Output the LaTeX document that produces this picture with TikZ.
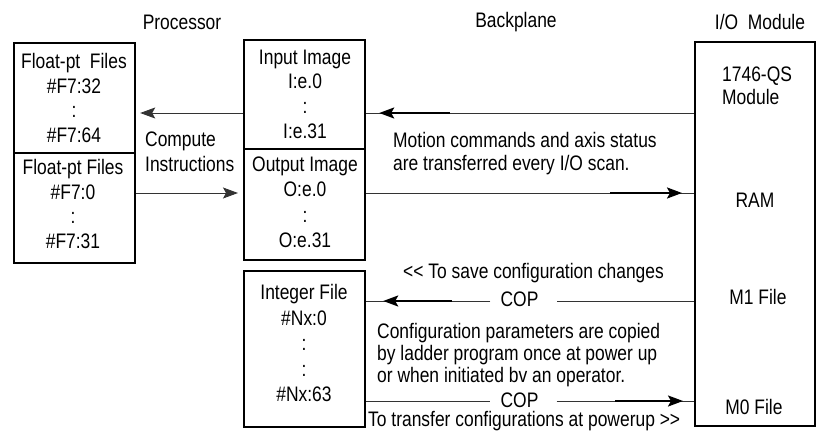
\documentclass[tikz,border=0pt]{standalone}
\usepackage{fontspec}
\setmainfont{Liberation Sans}[FakeStretch=0.83]
\usetikzlibrary{arrows.meta,calc}
\newcommand\myfs[1]{\fontsize{21}{#1}\selectfont}
\begin{document}
\begin{tikzpicture}[x=1pt,y=-1pt,
  box/.style={draw, line width=2.2pt, inner sep=0pt, anchor=north west},
  txt/.style={font=\myfs{24.7}, inner sep=0pt, align=center},
  ltxt/.style={inner sep=0pt, align=left, anchor=west},
  thinln/.style={line width=0.9pt, draw=black!80},
  thkarrow/.style={line width=2.2pt, -{Stealth[length=15pt,width=11pt,inset=3pt]}},
  thinarrow/.style={line width=0.9pt, draw=black!80, -{Stealth[length=15pt,width=11pt,inset=3pt]}}]
\useasboundingbox (0,0) rectangle (816,434);

% boxes
\node[box, minimum width=121pt, minimum height=110pt] (ft) at (13,42) {};
\node[box, minimum width=121pt, minimum height=110pt] (fb) at (13,152) {};
\node[box, minimum width=121pt, minimum height=109pt] (ii) at (243,39) {};
\node[box, minimum width=121pt, minimum height=111pt] (oi) at (243,148) {};
\node[box, minimum width=121pt, minimum height=156pt] (intf) at (243,270) {};
\node[box, minimum width=120pt, minimum height=384pt] (io) at (694,41) {};

% headings
\node[txt] (proc) at (182,22) {Processor};
\node[txt] (bp) at (516,22) {Backplane};
\node[txt] (iom) at (760,22) {I/O\ \ Module};

% box texts
\node[txt] (ftT) at (74,98) {Float-pt\ \ Files\\ \#F7:32\\ :\\ \#F7:64};
\node[txt] (fbT) at (73,204) {Float-pt Files\\ \#F7:0\\ :\\ \#F7:31};
\node[txt] (iiT) at (305,94) {Input Image\\ I:e.0\\ :\\ I:e.31};
\node[txt, font=\myfs{25.5}] (oiT) at (305,202.5) {Output Image\\ O:e.0\\ :\\ O:e.31};
\node[txt, font=\myfs{25.5}] (intT) at (304,343) {Integer File\\ \#Nx:0\\ :\\ :\\ \#Nx:63};
\node[txt, font=\myfs{22.5}, ltxt] (qsT) at (722,86) {1746-QS\\Module};
\node[txt] (ram) at (755,200) {RAM};
\node[txt] (m1) at (758,297) {M1 File};
\node[txt] (m0) at (754,407) {M0 File};

% side texts
\node[txt, font=\myfs{25}, ltxt] (comp) at (145,151.5) {Compute\\Instructions};
\node[txt, font=\myfs{23}, ltxt] (motion) at (393,154) {Motion commands and axis status\\are transferred every I/O scan.};
\node[txt, ltxt] (save) at (403,273) {<\kern0pt< To save configuration changes};
\node[txt] (cop1) at (519.5,299) {COP};
\node[txt, font=\myfs{22}, ltxt] (cfg) at (377,355) {Configuration parameters are copied\\by ladder program once at power up\\or when initiated bv an operator.};
\node[txt] (cop2) at (519.5,400) {COP};
\node[txt, ltxt] (xfer) at (368,421) {To transfer configurations at powerup >\kern0pt>};

% connector levels
\coordinate (y1) at (0,113);
\coordinate (y2) at (0,193);
\coordinate (y3) at (0,301);
\coordinate (y4) at (0,401);

% input image flow (module -> input image -> float files)
\draw[thinln] (io.west |- y1) -- (ii.east |- y1);
\draw[thkarrow] ($(ii.east |- y1)+(84,0)$) -- ($(ii.east |- y1)+(13,0)$);
\draw[thinarrow] (ii.west |- y1) -- ($(ft.east |- y1)+(4,0)$);

% output image flow (float files -> output image -> module)
\draw[thinarrow] (fb.east |- y2) -- ($(oi.west |- y2)+(-5,0)$);
\draw[thinln] (oi.east |- y2) -- (io.west |- y2);
\draw[thkarrow] ($(io.west |- y2)+(-84,0)$) -- ($(io.west |- y2)+(-12,0)$);

% COP save (module M1 -> integer file)
\draw[thinln] (io.west |- y3) -- ($(cop1.east |- y3)+(18,0)$);
\draw[thinln] ($(cop1.west |- y3)+(-10,0)$) -- (intf.east |- y3);
\draw[thkarrow] ($(intf.east |- y3)+(86,0)$) -- ($(intf.east |- y3)+(17,0)$);

% COP transfer (integer file -> module M0)
\draw[thinln] (intf.east |- y4) -- ($(cop2.west |- y4)+(-10,0)$);
\draw[thinln] ($(cop2.east |- y4)+(18,0)$) -- (io.west |- y4);
\draw[thkarrow] ($(io.west |- y4)+(-79,0)$) -- ($(io.west |- y4)+(-11,0)$);
\end{tikzpicture}
\end{document}
